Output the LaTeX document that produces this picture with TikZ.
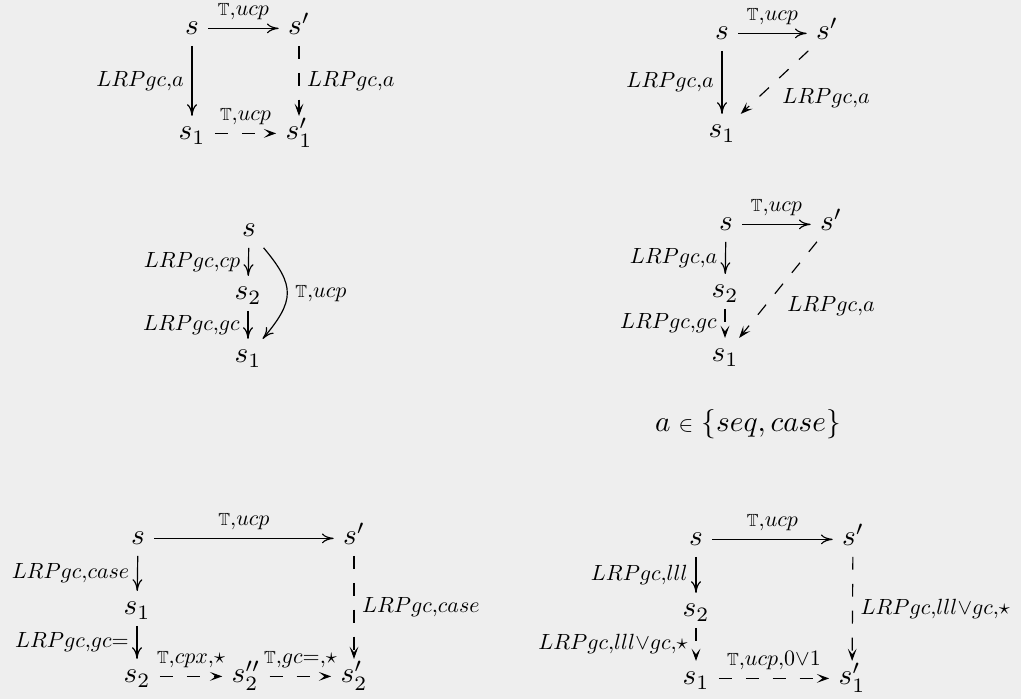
\documentclass[tikz,border=0pt]{standalone}
\usepackage{amssymb}
\usepackage{graphicx}
\usetikzlibrary{arrows.meta}
\definecolor{bg}{HTML}{EEEEEE}
\newcommand{\lbl}[1]{\scalebox{0.75}{$#1$}}
\newcommand{\TT}{\mathord{\scalebox{0.8}{$\mathbb{T}$}}}
\newcommand{\cm}{\mathord{,}}
\begin{document}
\begin{tikzpicture}[x=0.3413pt,y=0.3413pt,
  ob/.style={inner xsep=3pt,inner ysep=1pt,text height=7pt,text depth=2.5pt,anchor=base,
    execute at begin node=$, execute at end node=$},
  lab/.style={inner sep=2.6pt},
  ar/.style={line width=0.4pt,-{To[length=4pt,width=3.4pt]}},
  dar/.style={line width=0.4pt,dash pattern=on 4.4pt off 4.8pt,-{Stealth[length=4.2pt,width=3pt,inset=1.9pt]}}]
\fill[bg] (0,0) rectangle (1021,699);
\useasboundingbox (0,0) rectangle (1021,699);
% Diagram 1
\node[ob] (a1) at (192,664) {s};
\node[ob] (a2) at (299,664) {s'};
\node[ob] (a3) at (192,559) {s_1};
\node[ob] (a4) at (299,559) {s_1'};
\draw[ar] (a1) -- node[lab,above] {\lbl{\TT\cm ucp}} (a2);
\draw[ar] (a1) -- node[lab,left] {\lbl{LRPgc\cm a}} (a3);
\draw[dar] (a2) -- node[lab,right] {\lbl{LRPgc\cm a}} (a4);
\draw[dar] (a3) -- node[lab,above] {\lbl{\TT\cm ucp}} (a4);
% Diagram 2
\node[ob] (b1) at (722,659) {s};
\node[ob] (b2) at (827,659) {s'};
\node[ob] (b3) at (722,561) {s_1};
\draw[ar] (b1) -- node[lab,above] {\lbl{\TT\cm ucp}} (b2);
\draw[ar] (b1) -- node[lab,left] {\lbl{LRPgc\cm a}} (b3);
\draw[dar] (b2) -- node[lab,anchor=north west,inner sep=1pt,xshift=1.5pt,yshift=-1pt] {\lbl{LRPgc\cm a}} (b3);
% Diagram 3
\node[ob] (c1) at (249,462) {s};
\node[ob] (c2) at (248,399) {s_2};
\node[ob] (c3) at (248,336) {s_1};
\draw[ar] (c1) -- node[lab,left] {\lbl{LRPgc\cm cp}} (c2);
\draw[ar] (c2) -- node[lab,left] {\lbl{LRPgc\cm gc}} (c3);
\draw[ar] (c1) to[out=-50,in=50,looseness=1.4] node[lab,right] {\lbl{\TT\cm ucp}} (c3);
% Diagram 4
\node[ob] (d1) at (726,468) {s};
\node[ob] (d2) at (831,468) {s'};
\node[ob] (d3) at (725,401) {s_2};
\node[ob] (d4) at (725,337) {s_1};
\draw[ar] (d1) -- node[lab,above] {\lbl{\TT\cm ucp}} (d2);
\draw[ar] (d1) -- node[lab,left] {\lbl{LRPgc\cm a}} (d3);
\draw[dar] (d3) -- node[lab,left] {\lbl{LRPgc\cm gc}} (d4);
\draw[dar] (d2) -- node[lab,anchor=north west,inner sep=1pt,xshift=2pt,yshift=-1pt] {\lbl{LRPgc\cm a}} (d4);
\node[anchor=base,inner sep=0pt] (dt) at (748,267) {$a\mathrel{\scalebox{0.75}{$\in$}}\{seq,case\}$};
% Diagram 5
\node[ob] (e1) at (138,154) {s};
\node[ob] (e2) at (354,154) {s'};
\node[ob] (e3) at (137,84) {s_1};
\node[ob] (e4) at (137,16) {s_2};
\node[ob] (e5) at (246,16) {s_2''};
\node[ob] (e6) at (354,16) {s_2'};
\draw[ar] (e1) -- node[lab,above] {\lbl{\TT\cm ucp}} (e2);
\draw[ar] (e1) -- node[lab,left] {\lbl{LRPgc\cm case}} (e3);
\draw[ar] (e3) -- node[lab,left] {\lbl{LRPgc\cm gc{=}}} (e4);
\draw[dar] (e2) -- node[lab,right] {\lbl{LRPgc\cm case}} (e6);
\draw[dar] (e4) -- node[lab,above] {\lbl{\TT\cm cpx\cm\star}} (e5);
\draw[dar] (e5) -- node[lab,above] {\lbl{\TT\cm gc{=}\cm\star}} (e6);
% Diagram 6
\node[ob] (f1) at (696,153) {s};
\node[ob] (f2) at (853,153) {s'};
\node[ob] (f3) at (696,82) {s_2};
\node[ob] (f4) at (696,14) {s_1};
\node[ob] (f5) at (852,14) {s_1'};
\draw[ar] (f1) -- node[lab,above] {\lbl{\TT\cm ucp}} (f2);
\draw[ar] (f1) -- node[lab,left] {\lbl{LRPgc\cm lll}} (f3);
\draw[dar] (f3) -- node[lab,left] {\lbl{LRPgc\cm lll{\vee}gc\cm\star}} (f4);
\draw[dar] (f2) -- node[lab,right] {\lbl{LRPgc\cm lll{\vee}gc\cm\star}} (f5);
\draw[dar] (f4) -- node[lab,above] {\lbl{\TT\cm ucp\cm 0{\vee}1}} (f5);
\end{tikzpicture}
\end{document}
